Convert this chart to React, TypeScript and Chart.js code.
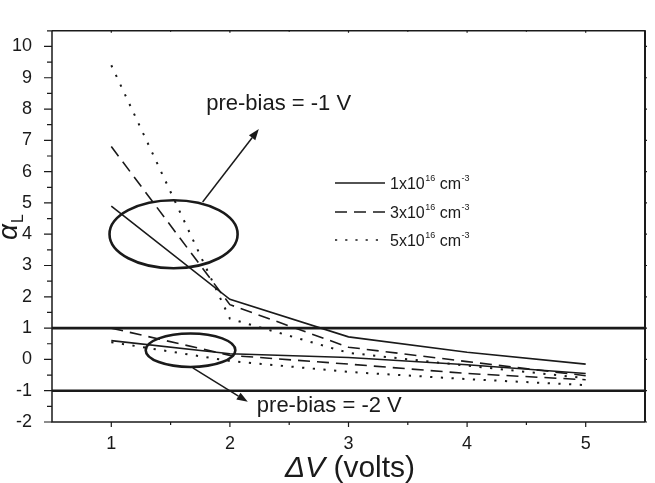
import { useEffect, useRef } from "react";
import { Chart, registerables } from "chart.js";

Chart.register(...registerables);

// ΔV values (volts) at which alpha_L was computed
const deltaV = [1, 2, 3, 4, 5];
const xTicks = [1, 2, 3, 4, 5];
const yTicks = [-2, -1, 0, 1, 2, 3, 4, 5, 6, 7, 8, 9, 10];
const xRange = [0.5, 5.5];
const yRange = [-2, 10.5];

// pre-bias = -1 V
const solidBias1 = [4.9, 1.92, 0.72, 0.23, -0.15];
const dashBias1 = [6.8, 1.75, 0.39, -0.07, -0.52];
const dotBias1 = [9.4, 1.3, 0.21, -0.2, -0.6];

// pre-bias = -2 V
const solidBias2 = [0.6, 0.18, 0.06, -0.17, -0.45];
const dashBias2 = [1.0, 0.13, -0.15, -0.45, -0.65];
const dotBias2 = [0.55, -0.05, -0.4, -0.63, -0.82];

// |alpha_L| = 1 limits
const limitLevels = [1, -1];

// legend: doping concentrations
const legendBases = ["1x10", "3x10", "5x10"];
const legendExponent = "16";
const legendUnit = " cm";
const legendUnitExponent = "-3";
const dashStyles = [[], [12, 7], [2.2, 8.5]];

// group annotations (data units): ellipse centre/radii, arrow start/tip, label anchor
const groupEllipses = [
  { cx: 1.525, cy: 4.0, rx: 0.54, ry: 1.085 },
  { cx: 1.668, cy: 0.294, rx: 0.378, ry: 0.536 },
];
const groupArrows = [
  { x0: 1.77, y0: 5.03, x1: 2.244, y1: 7.36 },
  { x0: 1.687, y0: -0.27, x1: 2.151, y1: -1.355 },
];
const groupLabels = [
  { x: 1.8, y: 8.15, text: "pre-bias = -1 V" },
  { x: 2.227, y: -1.485, text: "pre-bias = -2 V" },
];

const FONT = "'Liberation Sans', Arial, Helvetica, sans-serif";
const INK = "#1a1a1a";

const figurePlugin = {
  id: "figureDecor",
  afterDatasetsDraw(chart: any) {
    const { ctx, chartArea, scales } = chart;
    const xs = scales.x;
    const ys = scales.y;
    const px = (v: number) => xs.getPixelForValue(v);
    const py = (v: number) => ys.getPixelForValue(v);
    const { left, right, top, bottom } = chartArea;

    ctx.save();
    ctx.strokeStyle = INK;
    ctx.fillStyle = INK;

    // frame
    ctx.lineWidth = 1.5;
    ctx.beginPath();
    ctx.moveTo(left, top);
    ctx.lineTo(right, top);
    ctx.moveTo(left, top);
    ctx.lineTo(left, bottom);
    ctx.lineTo(right, bottom);
    ctx.stroke();
    ctx.lineWidth = 2;
    ctx.beginPath();
    ctx.moveTo(right, top);
    ctx.lineTo(right, bottom);
    ctx.stroke();

    // tick marks: majors + minors on all sides
    ctx.lineWidth = 1.2;
    ctx.beginPath();
    for (let v = xRange[0]; v <= xRange[1] + 1e-9; v += 0.5) {
      const major = Number.isInteger(v);
      const x = px(v);
      if (v > xRange[0] && v < xRange[1]) {
        ctx.moveTo(x, bottom);
        ctx.lineTo(x, bottom + (major ? 5 : 3));
        ctx.moveTo(x, top);
        ctx.lineTo(x, top + (major ? 2 : 1));
      }
    }
    for (let v = yRange[0]; v <= yRange[1] + 1e-9; v += 0.5) {
      const major = Number.isInteger(v);
      const y = py(v);
      ctx.moveTo(left, y);
      ctx.lineTo(left - (major ? 8 : 5), y);
      ctx.moveTo(right, y);
      ctx.lineTo(right + (major ? 2 : 1), y);
    }
    ctx.stroke();

    // group ellipses
    ctx.lineWidth = 2.6;
    groupEllipses.forEach((e) => {
      const cx = px(e.cx);
      const cy = py(e.cy);
      const rx = Math.abs(px(e.cx + e.rx) - cx);
      const ry = Math.abs(py(e.cy + e.ry) - cy);
      ctx.beginPath();
      ctx.ellipse(cx, cy, rx, ry, 0, 0, Math.PI * 2);
      ctx.stroke();
    });

    // arrows
    ctx.lineWidth = 1.5;
    groupArrows.forEach((a) => {
      const x0 = px(a.x0), y0 = py(a.y0), x1 = px(a.x1), y1 = py(a.y1);
      const ang = Math.atan2(y1 - y0, x1 - x0);
      const hl = 11, hw = 4;
      const bx = x1 - hl * Math.cos(ang), by = y1 - hl * Math.sin(ang);
      ctx.beginPath();
      ctx.moveTo(x0, y0);
      ctx.lineTo(bx, by);
      ctx.stroke();
      ctx.beginPath();
      ctx.moveTo(x1, y1);
      ctx.lineTo(bx + hw * Math.sin(ang), by - hw * Math.cos(ang));
      ctx.lineTo(bx - hw * Math.sin(ang), by + hw * Math.cos(ang));
      ctx.closePath();
      ctx.fill();
    });

    // group labels
    ctx.font = `22px ${FONT}`;
    ctx.textAlign = "left";
    ctx.textBaseline = "middle";
    groupLabels.forEach((l) => {
      ctx.fillText(l.text, px(l.x), py(l.y));
    });

    // legend
    const lx0 = 335, lx1 = 385, tx = 390;
    const rows = [183, 212, 240];
    legendBases.forEach((base, i) => {
      const y = rows[i];
      ctx.lineWidth = 1.6;
      ctx.setLineDash(i === 2 ? [2.2, 8] : dashStyles[i]);
      ctx.beginPath();
      ctx.moveTo(lx0, y);
      ctx.lineTo(lx1, y);
      ctx.stroke();
      ctx.setLineDash([]);
      ctx.textBaseline = "alphabetic";
      let x = tx;
      const baseY = y + 6;
      ctx.font = `16px ${FONT}`;
      ctx.fillText(base, x, baseY);
      x += ctx.measureText(base).width;
      ctx.font = `9px ${FONT}`;
      ctx.fillText(legendExponent, x + 0.5, baseY - 8);
      x += ctx.measureText(legendExponent).width + 0.5;
      ctx.font = `16px ${FONT}`;
      ctx.fillText(legendUnit, x, baseY);
      x += ctx.measureText(legendUnit).width;
      ctx.font = `9px ${FONT}`;
      ctx.fillText(legendUnitExponent, x + 0.5, baseY - 8);
    });

    // x-axis title: ΔV (volts)
    ctx.textBaseline = "alphabetic";
    const t1 = "\u0394V";
    const t2 = " (volts)";
    ctx.font = `italic 30px ${FONT}`;
    const w1 = ctx.measureText(t1).width;
    ctx.font = `30px ${FONT}`;
    const w2 = ctx.measureText(t2).width;
    const xt = 350 - (w1 + w2) / 2;
    ctx.font = `italic 30px ${FONT}`;
    ctx.fillText(t1, xt, 477);
    ctx.font = `30px ${FONT}`;
    ctx.fillText(t2, xt + w1, 477);

    // y-axis title: alpha_L
    ctx.save();
    ctx.translate(17, 232);
    ctx.rotate(-Math.PI / 2);
    ctx.font = `italic 28px ${FONT}`;
    ctx.textAlign = "left";
    ctx.fillText("\u03b1", -8, 0);
    const wa = ctx.measureText("\u03b1").width;
    ctx.font = `16px ${FONT}`;
    ctx.fillText("L", -8 + wa + 1, 6);
    ctx.restore();

    ctx.restore();
  },
};

function lineSet(data: number[], dash: number[], width = 1.6) {
  return {
    data: data.map((y, i) => ({ x: deltaV[i], y })),
    borderColor: INK,
    borderWidth: width,
    borderDash: dash,
    pointRadius: 0,
    fill: false,
    tension: 0,
  };
}

export default function App() {
  const canvasRef = useRef<HTMLCanvasElement | null>(null);

  useEffect(() => {
    const canvas = canvasRef.current;
    if (!canvas) return;
    const limitSets = limitLevels.map((lv) => ({
      data: [
        { x: xRange[0], y: lv },
        { x: xRange[1], y: lv },
      ],
      borderColor: INK,
      borderWidth: 2.6,
      pointRadius: 0,
      fill: false,
    }));
    const chart = new Chart(canvas, {
      type: "line",
      data: {
        datasets: [
          ...limitSets,
          lineSet(solidBias1, dashStyles[0]),
          lineSet(dashBias1, dashStyles[1]),
          lineSet(dotBias1, dashStyles[2], 2),
          lineSet(solidBias2, dashStyles[0]),
          lineSet(dashBias2, dashStyles[1]),
          lineSet(dotBias2, dashStyles[2], 2),
        ] as any,
      },
      options: {
        animation: false,
        responsive: false,
        layout: { padding: { top: 9, right: 10, left: 0, bottom: 0 } },
        plugins: { legend: { display: false }, tooltip: { enabled: false } },
        scales: {
          x: {
            type: "linear",
            min: xRange[0],
            max: xRange[1],
            grid: { display: false, drawTicks: false },
            border: { display: false },
            afterBuildTicks: (s: any) => {
              s.ticks = xTicks.map((v) => ({ value: v }));
            },
            afterFit: (s: any) => {
              s.height = 61;
            },
            ticks: {
              autoSkip: false,
              maxRotation: 0,
              padding: 11,
              color: INK,
              font: { family: FONT, size: 18 },
              callback: (v: any) => String(v),
            },
          },
          y: {
            type: "linear",
            min: yRange[0],
            max: yRange[1],
            grid: { display: false, drawTicks: false },
            border: { display: false },
            afterBuildTicks: (s: any) => {
              s.ticks = yTicks.map((v) => ({ value: v }));
            },
            afterFit: (s: any) => {
              s.width = 52;
            },
            ticks: {
              autoSkip: false,
              padding: 20,
              color: INK,
              font: { family: FONT, size: 18 },
              callback: (v: any) => String(v),
            },
          },
        },
      },
      plugins: [figurePlugin],
    });
    return () => chart.destroy();
  }, []);

  return (
    <div style={{ position: "fixed", left: 0, top: 0, width: 655, height: 483, background: "#fff" }}>
      <canvas ref={canvasRef} width={655} height={483} style={{ display: "block" }} />
    </div>
  );
}
